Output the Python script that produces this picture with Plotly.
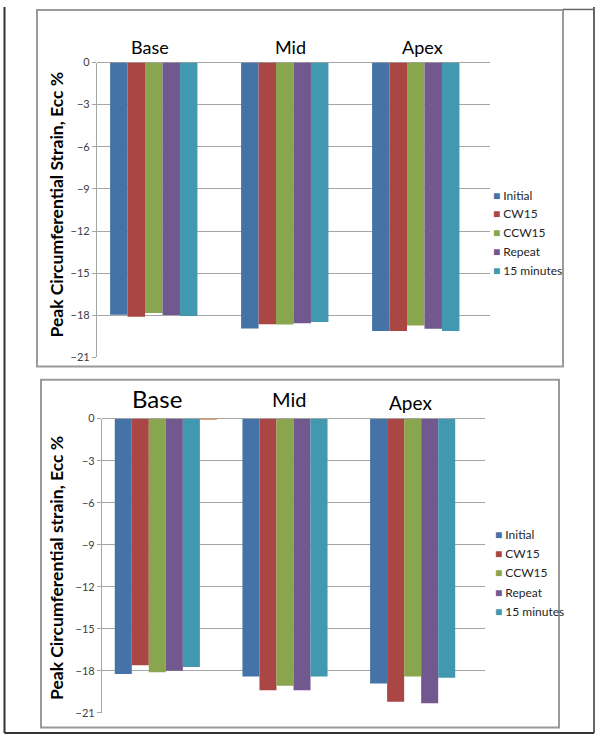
import plotly.graph_objects as go

# 데이터
regions = ["Base", "Mid", "Apex"]
series_names = ["Initial", "CW15", "CCW15", "Repeat", "15 minutes"]
series_colors = ["#4572A7", "#AA4643", "#89A54E", "#71588F", "#4198AF"]

top_initial = [-17.96, -18.94, -19.12]
top_cw15 = [-18.10, -18.63, -19.12]
top_ccw15 = [-17.84, -18.66, -18.73]
top_repeat = [-17.98, -18.56, -18.96]
top_15min = [-18.05, -18.47, -19.12]
top_extra = [0, 0, 0]

bot_initial = [-18.23, -18.42, -18.91]
bot_cw15 = [-17.62, -19.40, -20.22]
bot_ccw15 = [-18.11, -19.07, -18.42]
bot_repeat = [-18.00, -19.40, -20.32]
bot_15min = [-17.74, -18.42, -18.51]
bot_extra = [-0.06, 0, 0]

y_ticks = [0, -3, -6, -9, -12, -15, -18, -21]

W, H = 600, 740


def px(x):
    return x / W


def py(y):
    return 1 - y / H


FONT = "Lato, 'Open Sans', sans-serif"

fig = go.Figure()

top_series = [top_initial, top_cw15, top_ccw15, top_repeat, top_15min]
bot_series = [bot_initial, bot_cw15, bot_ccw15, bot_repeat, bot_15min]

for vals, name, color in zip(top_series, series_names, series_colors):
    fig.add_trace(go.Bar(x=regions, y=vals, name=name, marker_color=color,
                         marker_line_width=0, xaxis="x", yaxis="y", showlegend=False))
fig.add_trace(go.Bar(x=regions, y=top_extra, marker_color="#DB843D",
                     marker_line_width=0, xaxis="x", yaxis="y", showlegend=False))

for vals, name, color in zip(bot_series, series_names, series_colors):
    fig.add_trace(go.Bar(x=regions, y=vals, name=name, marker_color=color,
                         marker_line_width=0, xaxis="x2", yaxis="y2", showlegend=False))
fig.add_trace(go.Bar(x=regions, y=bot_extra, marker_color="#DB843D",
                     marker_line_width=0, xaxis="x2", yaxis="y2", showlegend=False))

grid = "#A6A6A6"
yax = dict(range=[-21, 0], tickvals=y_ticks, gridcolor=grid, gridwidth=1.3,
           ticks="outside", ticklen=4, tickcolor=grid, showline=True,
           linecolor=grid, linewidth=1.3, zeroline=True, zerolinecolor=grid,
           zerolinewidth=1.3, tickfont=dict(family=FONT, size=11, color="#404040"),
           fixedrange=True)
xax = dict(showticklabels=False, showgrid=False, zeroline=False, showline=False,
           ticks="", fixedrange=True)

fig.update_layout(
    width=W, height=H,
    margin=dict(l=0, r=0, t=0, b=0),
    paper_bgcolor="white", plot_bgcolor="white",
    barmode="group", bargap=0.2, bargroupgap=0,
    showlegend=False,
    xaxis=dict(xax, domain=[px(97), px(490)], anchor="y"),
    yaxis=dict(yax, domain=[py(356.7), py(56.5)], anchor="x"),
    xaxis2=dict(xax, domain=[px(102), px(485)], anchor="y2"),
    yaxis2=dict(yax, domain=[py(718.3), py(419)], anchor="x2"),
)

# 패널 테두리
shapes = [
    dict(type="rect", x0=px(37), x1=px(563), y0=py(3), y1=py(366),
         line=dict(color="#9A9A9A", width=2)),
    dict(type="rect", x0=px(41), x1=px(559), y0=py(379.5), y1=py(733.5),
         line=dict(color="#9A9A9A", width=2)),
    dict(type="line", x0=px(4.5), x1=px(4.5), y0=py(0), y1=py(739),
         line=dict(color="#333333", width=2)),
    dict(type="line", x0=px(4.5), x1=px(594), y0=py(739), y1=py(739),
         line=dict(color="#333333", width=2)),
    dict(type="line", x0=px(594), x1=px(594), y0=py(0), y1=py(739),
         line=dict(color="#333333", width=1.5)),
    dict(type="line", x0=px(563), x1=px(594), y0=py(2.5), y1=py(2.5),
         line=dict(color="#666666", width=1.5)),
]
for s in shapes:
    s.update(xref="paper", yref="paper")
fig.update_layout(shapes=shapes)


def label(x, y, text, size, **kw):
    fig.add_annotation(x=px(x), y=py(y), xref="paper", yref="paper", text=text,
                       showarrow=False, xanchor=kw.pop("xanchor", "center"),
                       yanchor="middle", font=dict(family=FONT, size=size,
                                                   color=kw.pop("color", "#000000")),
                       **kw)


# 지역 라벨
top_labels = [(150, 41, 18), (290, 41, 18), (422, 41, 18)]
bot_labels = [(157, 399, 24), (289, 399, 20), (410, 402.5, 19)]
for name, (x, y, s) in zip(regions, top_labels):
    label(x, y, name, s)
for name, (x, y, s) in zip(regions, bot_labels):
    label(x, y, name, s)

# y축 제목
label(56, 201, "<b>Peak Circumferential Strain, Ecc %</b>", 17.5, textangle=-90)
label(57, 571, "<b>Peak Circumferential strain, Ecc %</b>", 17.5, textangle=-90)

# 범례
top_leg_y = [191.7, 210.7, 230, 249.3, 268.3]
bot_leg_y = [537, 556.3, 575.3, 596, 615.3]
for name, color, y1, y2 in zip(series_names, series_colors, top_leg_y, bot_leg_y):
    txt = f'<span style="color:{color}">■</span> {name}'
    label(491, y1, txt, 12, xanchor="left", color="#262626")
    label(493, y2, txt, 12, xanchor="left", color="#262626")

fig.write_html("out.html", config={"displayModeBar": False},
               post_script="document.body.style.margin='0';")
